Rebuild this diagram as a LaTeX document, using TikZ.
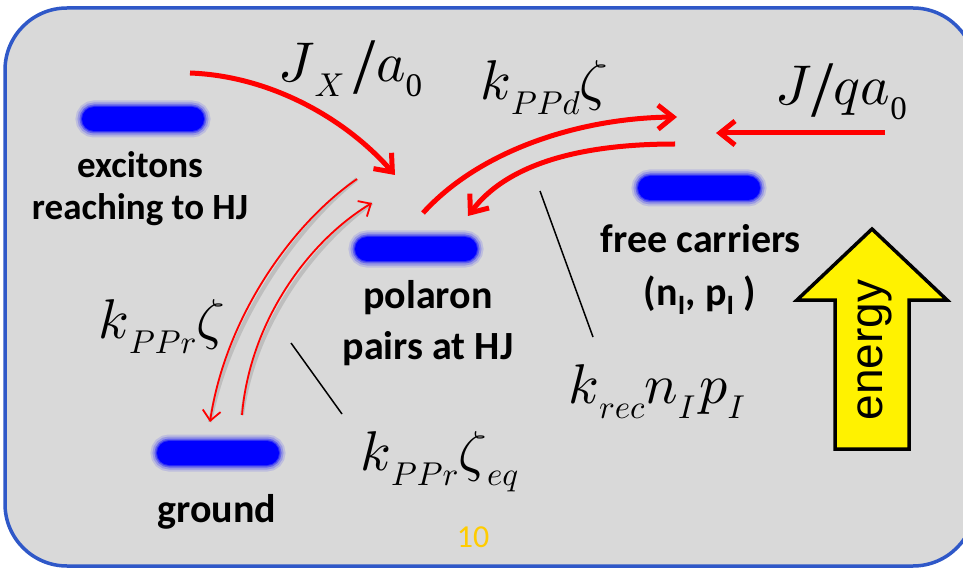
\documentclass[tikz,border=0pt]{standalone}
\usepackage{fontspec}
\setmainfont{Liberation Serif}
\newfontfamily\calfont{Carlito}
\newfontfamily\arialfont{Liberation Sans}
\DeclareFontShape{OML}{cmm}{m}{it}{<->cmmi10}{}
\usetikzlibrary{arrows.meta}
\definecolor{bggray}{RGB}{217,217,217}
\definecolor{framecol}{RGB}{47,88,200}
\definecolor{barblue}{RGB}{0,0,255}
\definecolor{numcol}{RGB}{255,204,0}
\newcommand\lw[1]{\raisebox{-15pt}{\fontsize{33}{33}\selectfont #1}}
\newcommand\bigslash{\raisebox{-12pt}{\fontsize{80}{80}\selectfont /}}
\tikzset{
  frame/.style={draw=framecol, line width=3.5pt, fill=bggray, rounded corners=62pt},
  bar/.style={minimum width=122pt, minimum height=24pt, rounded corners=12pt, fill=barblue, inner sep=0pt, draw=none,
    preaction={draw=barblue, line width=13pt, draw opacity=0.12},
    preaction={draw=barblue, line width=9pt, draw opacity=0.2},
    preaction={draw=barblue, line width=5pt, draw opacity=0.35},
    preaction={draw=barblue, line width=2pt, draw opacity=0.5}},
  lab/.style={font=\calfont\bfseries\fontsize{40}{44}\selectfont, anchor=base, inner sep=0pt},
  labs/.style={font=\calfont\bfseries\fontsize{37}{40}\selectfont, anchor=base, inner sep=0pt},
  mth/.style={font=\fontsize{56}{60}\selectfont, anchor=base west, inner sep=0pt},
  thickarrow/.style={red, line width=5pt, -{Straight Barb[length=15pt,width=24pt]}},
  thinarrow/.style={red, line width=1.8pt, -{Straight Barb[length=10pt,width=18pt]}},
  shadowline/.style={black, line width=4pt, draw opacity=0.12},
  tick/.style={black, line width=1.5pt},
  energyarrow/.style={draw=black, line width=3.5pt, fill=yellow, line join=miter},
}
\begin{document}
\begin{tikzpicture}[x=1pt,y=-1pt]
\useasboundingbox (0,0) rectangle (963,569);
\fill[white] (0,0) rectangle (963,569);
\draw[frame] (5,8) rectangle (975,566);

% bars
\node[bar] (exbar) at (143,119) {};
\node[bar] (pobar) at (416,249) {};
\node[bar] (frbar) at (699,188) {};
\node[bar] (grbar) at (218,453) {};

% labels
\node[labs] (ex1) at (140,178) {excitons};
\node[labs] (ex2) at (140,220) {reaching to HJ};
\node[lab] (po1) at (428,308) {polaron};
\node[lab] (po2) at (428,359) {pairs at HJ};
\node[lab] (fr1) at (701,252) {free carriers};
\node[lab] (fr2) at (700,305) {(n\textsubscript{I}, p\textsubscript{I} )};
\node[lab] (gr) at (217,522) {ground};
\node[font=\calfont\fontsize{32}{34}\selectfont, text=numcol, anchor=base, inner sep=0pt] (pg) at (473,547) {10};

% math labels
\node[mth] (m1) at (278,82) {$J$\lw{$X$}\,\bigslash$a$\lw{0}};
\node[mth] (m2) at (480,100) {$k$\lw{$PPd$}$\zeta$};
\node[mth] (m3) at (775,105) {$J$\bigslash$qa$\lw{0}};
\node[mth] (m4) at (98,338) {$k$\lw{$PPr$}$\zeta$};
\node[mth] (m5) at (360,470) {$k$\lw{$PPr$}$\zeta$\lw{$eq$}};
\node[mth] (m6) at (568,403) {$k$\lw{$rec$}$n$\lw{$I$}$\,p$\lw{$I$}};

% coordinates
\coordinate (a1s) at (190,73);  \coordinate (a1e) at (395,175);
\coordinate (a2s) at (423,213); \coordinate (a2e) at (677,117);
\coordinate (a3s) at (675,144); \coordinate (a3e) at (468,216);
\coordinate (a4s) at (885,133); \coordinate (a4e) at (716,133);
\coordinate (t1s) at (357,179); \coordinate (t1e) at (210,422);
\coordinate (t2s) at (242,415); \coordinate (t2e) at (372,203);
\coordinate (k1s) at (540,191); \coordinate (k1e) at (593,337);
\coordinate (k2s) at (291,343); \coordinate (k2e) at (342,414);

% shadows of thin arrows
\begin{scope}[shift={(4,4)}]
\draw[shadowline] (t1s) .. controls (290,225) and (225,320) .. (t1e);
\draw[shadowline] (t2s) .. controls (250,320) and (310,240) .. (t2e);
\end{scope}

% thick arrows
\draw[thickarrow] (a1s) .. controls (270,76) and (345,118) .. (a1e);
\draw[thickarrow] (a2s) .. controls (480,150) and (580,118) .. (a2e);
\draw[thickarrow] (a3s) .. controls (590,144) and (510,160) .. (a3e);
\draw[thickarrow] (a4s) -- (a4e);

% thin arrows
\draw[thinarrow] (t1s) .. controls (290,225) and (225,320) .. (t1e);
\draw[thinarrow] (t2s) .. controls (250,320) and (310,240) .. (t2e);

% ticks
\draw[tick] (k1s) -- (k1e);
\draw[tick] (k2s) -- (k2e);

% energy arrow
\draw[energyarrow] (835,449) -- (835,300) -- (797,300) -- (872,229) -- (947,300) -- (909,300) -- (909,449) -- cycle;
\node[font=\arialfont\fontsize{46}{46}\selectfont, rotate=90, anchor=base, inner sep=0pt] (en) at (882,350) {energy};
\end{tikzpicture}
\end{document}
